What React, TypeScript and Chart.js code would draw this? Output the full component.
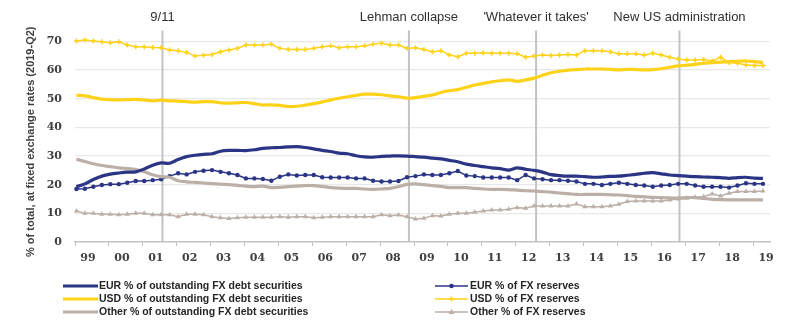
import React, { useEffect, useRef } from 'react';
import { Chart, registerables } from 'chart.js';

Chart.register(...registerables);

// Quarterly categories 1999-Q1 .. 2019-Q2
const quarters: string[] = [];
for (let y = 1999; y <= 2019; y++) {
  for (let q = 1; q <= 4; q++) {
    if (y === 2019 && q > 2) break;
    quarters.push(`${y}-Q${q}`);
  }
}

const yearTicks: number[] = [];
for (let y = 1999; y <= 2019; y++) yearTicks.push(y);

const eurDebt = [
  19.3, 20.3, 21.8, 23.0, 23.7, 24.1, 24.4, 24.5, 25.5, 26.8,
  27.6, 27.5, 28.8, 29.8, 30.3, 30.6, 30.8, 31.7, 32.0, 32.0,
  31.9, 32.2, 32.7, 32.9, 33.0, 33.2, 33.3, 33.0, 32.5, 32.0,
  31.6, 31.0, 30.8, 30.1, 29.7, 29.6, 29.9, 30.0, 30.1, 30.0,
  29.8, 29.6, 29.3, 29.0, 28.5, 28.0, 27.2, 26.7, 26.3, 25.9,
  25.6, 25.1, 25.9, 25.4, 25.0, 24.4, 23.5, 23.2, 23.0, 23.0,
  22.8, 22.6, 22.7, 22.9, 23.0, 23.3, 23.6, 24.0, 24.2, 23.8,
  23.4, 23.2, 23.0, 22.8, 22.7, 22.6, 22.5, 22.2, 22.5, 22.6,
  22.3, 22.2,
];

const eurReserves = [
  18.5, 18.6, 19.3, 19.9, 20.2, 20.2, 20.7, 21.3, 21.3, 21.6,
  21.9, 23.0, 24.0, 23.6, 24.5, 24.9, 25.1, 24.5, 24.0, 23.4,
  22.2, 22.2, 22.0, 21.4, 22.8, 23.6, 23.2, 23.4, 23.4, 22.6,
  22.5, 22.5, 22.5, 22.2, 22.2, 21.4, 21.1, 21.1, 21.3, 22.6,
  23.0, 23.6, 23.4, 23.4, 24.0, 24.8, 23.2, 23.0, 22.5, 22.5,
  22.5, 22.5, 21.6, 23.4, 22.2, 21.9, 21.6, 21.6, 21.4, 21.1,
  20.3, 20.3, 19.9, 20.3, 20.7, 20.3, 19.9, 19.7, 19.3, 19.7,
  19.9, 20.3, 20.3, 19.7, 19.3, 19.3, 19.3, 19.0, 19.7, 20.5,
  20.3, 20.3,
];

const usdDebt = [
  51.3, 51.0, 50.4, 49.9, 49.7, 49.6, 49.7, 49.8, 49.6, 49.3,
  49.5, 49.3, 49.2, 49.0, 48.8, 49.0, 49.0, 48.6, 48.5, 48.6,
  48.7, 48.3, 47.8, 47.9, 47.7, 47.3, 47.4, 47.8, 48.3, 48.9,
  49.6, 50.2, 50.7, 51.2, 51.6, 51.6, 51.4, 51.0, 50.7, 50.2,
  50.4, 50.9, 51.3, 52.2, 52.8, 53.2, 54.0, 54.8, 55.4, 55.9,
  56.3, 56.6, 56.1, 56.6, 57.2, 58.2, 59.1, 59.6, 60.0, 60.2,
  60.4, 60.4, 60.4, 60.3, 60.1, 60.3, 60.2, 60.1, 60.2, 60.5,
  61.0, 61.5, 61.7, 62.0, 62.4, 62.6, 62.8, 63.0, 63.1, 63.2,
  63.0, 62.7,
];

const usdReserves = [
  70.2, 70.5, 70.2, 69.9, 69.6, 69.9, 68.8, 68.2, 68.2, 67.9,
  67.8, 67.0, 66.8, 66.2, 64.9, 65.2, 65.5, 66.4, 67.0, 67.6,
  68.8, 68.8, 68.8, 69.0, 67.6, 67.2, 67.2, 67.2, 67.6, 68.2,
  68.5, 67.8, 68.2, 68.2, 68.5, 69.0, 69.4, 68.8, 68.8, 67.6,
  67.8, 67.2, 66.4, 66.8, 65.3, 64.7, 65.9, 65.9, 66.1, 65.9,
  65.9, 65.9, 65.7, 64.5, 64.9, 65.3, 65.1, 65.3, 65.5, 65.3,
  66.8, 66.8, 66.8, 66.4, 65.7, 65.7, 65.7, 65.3, 65.9, 65.3,
  64.5, 63.9, 63.5, 63.5, 63.7, 63.2, 64.5, 62.7, 62.4, 61.8,
  61.6, 61.6,
];

const otherDebt = [
  28.9, 28.1, 27.3, 26.7, 26.3, 25.9, 25.6, 25.3, 24.5, 23.5,
  22.8, 22.6, 21.4, 21.0, 20.8, 20.6, 20.4, 20.2, 20.0, 19.8,
  19.5, 19.3, 19.5, 19.0, 19.1, 19.3, 19.5, 19.7, 19.7, 19.4,
  19.0, 18.8, 18.7, 18.7, 18.5, 18.4, 18.5, 18.7, 19.3, 20.1,
  20.3, 20.0, 19.7, 19.4, 19.0, 19.0, 19.0, 18.7, 18.5, 18.4,
  18.4, 18.3, 18.1, 17.9, 17.8, 17.6, 17.4, 17.1, 16.9, 16.6,
  16.6, 16.6, 16.6, 16.5, 16.4, 16.2, 15.9, 15.8, 15.6, 15.5,
  15.4, 15.3, 15.5, 15.5, 15.2, 14.9, 14.8, 14.7, 14.7, 14.7,
  14.7, 14.7,
];

const otherReserves = [
  10.8, 10.0, 10.0, 9.7, 9.7, 9.5, 9.7, 10.0, 10.0, 9.5,
  9.5, 9.5, 8.8, 9.7, 9.7, 9.5, 8.8, 8.5, 8.2, 8.5,
  8.6, 8.6, 8.6, 8.6, 8.8, 8.6, 8.8, 8.8, 8.5, 8.6,
  8.8, 8.8, 8.8, 8.8, 8.8, 8.8, 9.5, 9.2, 9.4, 8.8,
  8.0, 8.3, 9.2, 9.1, 9.7, 10.0, 10.0, 10.4, 10.8, 11.2,
  11.2, 11.4, 12.0, 11.8, 12.6, 12.6, 12.6, 12.6, 12.6, 13.3,
  12.3, 12.3, 12.3, 12.6, 13.2, 14.1, 14.3, 14.3, 14.3, 14.3,
  14.7, 15.0, 15.3, 15.6, 15.8, 16.8, 16.1, 17.0, 17.6, 17.6,
  17.6, 17.8,
];

const yTicks = [0, 10, 20, 30, 40, 50, 60, 70];

const eventDates = [2001.58, 2008.85, 2012.6, 2016.83];
const eventLabels = ['9/11', 'Lehman collapse', "'Whatever it takes'", 'New US administration'];

const seriesNames = [
  'EUR % of outstanding FX debt securities',
  'USD % of outstanding FX debt securities',
  'Other % of outstanding FX debt securities',
  'EUR % of FX reserves',
  'USD % of FX reserves',
  'Other % of FX reserves',
];

const NAVY = '#2b3585';
const YELLOW = '#ffd21a';
const TAUPE = '#bcafa7';

const quarterX = (label: string) => {
  const [y, q] = label.split('-Q');
  return Number(y) + (Number(q) - 1) / 4 + 1 / 24;
};

const toPoints = (arr: number[]) => arr.map((v, i) => ({ x: quarterX(quarters[i]), y: v }));

const drawMarker = (ctx: CanvasRenderingContext2D, style: string, x: number, y: number, color: string) => {
  ctx.save();
  ctx.fillStyle = color;
  ctx.strokeStyle = color;
  if (style === 'circle') {
    ctx.beginPath();
    ctx.arc(x, y, 2.3, 0, Math.PI * 2);
    ctx.fill();
  } else if (style === 'cross') {
    ctx.lineWidth = 1.5;
    ctx.beginPath();
    ctx.moveTo(x - 2.5, y);
    ctx.lineTo(x + 2.5, y);
    ctx.moveTo(x, y - 2.5);
    ctx.lineTo(x, y + 2.5);
    ctx.stroke();
  } else if (style === 'triangle') {
    ctx.beginPath();
    ctx.moveTo(x, y - 3);
    ctx.lineTo(x + 3, y + 2);
    ctx.lineTo(x - 3, y + 2);
    ctx.closePath();
    ctx.fill();
  }
  ctx.restore();
};

const overlayPlugin = {
  id: 'overlay',
  beforeDatasetsDraw(chart: any) {
    const { ctx, chartArea, scales } = chart;
    const xs = scales.x;
    ctx.save();
    ctx.strokeStyle = '#c3c3c3';
    ctx.lineWidth = 2;
    eventDates.forEach((d) => {
      const px = xs.getPixelForValue(d);
      ctx.beginPath();
      ctx.moveTo(px, chartArea.top - 11);
      ctx.lineTo(px, chartArea.bottom);
      ctx.stroke();
    });
    ctx.restore();
  },
  afterDraw(chart: any) {
    const { ctx, scales } = chart;
    const xs = scales.x;
    ctx.save();
    ctx.fillStyle = '#303030';
    ctx.font = '13px "Liberation Sans", Arial, sans-serif';
    ctx.textAlign = 'center';
    ctx.textBaseline = 'alphabetic';
    eventDates.forEach((d, i) => {
      ctx.fillText(eventLabels[i], xs.getPixelForValue(d), 20.5);
    });

    // Legend (two columns)
    const ds = chart.data.datasets;
    const colLine = [[63, 98], [435, 468]];
    const colText = [99, 470];
    const rows = [286, 299, 312];
    ctx.font = 'bold 10.5px "Liberation Sans", Arial, sans-serif';
    ctx.textAlign = 'left';
    ctx.textBaseline = 'middle';
    ds.forEach((d: any, i: number) => {
      const col = i < 3 ? 0 : 1;
      const row = i % 3;
      const y = rows[row];
      const [x0, x1] = colLine[col];
      ctx.strokeStyle = d.borderColor;
      ctx.lineWidth = col === 0 ? 3 : 1.5;
      ctx.beginPath();
      ctx.moveTo(x0, y);
      ctx.lineTo(x1, y);
      ctx.stroke();
      if (col === 1) drawMarker(ctx, d.pointStyle, (x0 + x1) / 2, y, d.borderColor);
      ctx.fillStyle = '#262626';
      ctx.fillText(d.label, colText[col], y + 0.5);
    });
    ctx.restore();
  },
};

export default function App() {
  const ref = useRef<HTMLCanvasElement | null>(null);

  useEffect(() => {
    document.body.style.margin = '0';
    const canvas = ref.current;
    if (!canvas) return;
    const tickFont = { family: '"DejaVu Serif", serif', size: 11, weight: 'bold' as const };
    const chart = new Chart(canvas, {
      type: 'line',
      data: {
        datasets: [
          {
            label: seriesNames[0], data: toPoints(eurDebt), borderColor: NAVY, backgroundColor: NAVY,
            borderWidth: 3.2, pointRadius: 0, tension: 0.3, pointStyle: 'line', clip: false,
          },
          {
            label: seriesNames[1], data: toPoints(usdDebt), borderColor: YELLOW, backgroundColor: YELLOW,
            borderWidth: 3.2, pointRadius: 0, tension: 0.3, pointStyle: 'line', clip: false,
          },
          {
            label: seriesNames[2], data: toPoints(otherDebt), borderColor: TAUPE, backgroundColor: TAUPE,
            borderWidth: 3.2, pointRadius: 0, tension: 0.3, pointStyle: 'line', clip: false,
          },
          {
            label: seriesNames[3], data: toPoints(eurReserves), borderColor: NAVY, backgroundColor: NAVY,
            borderWidth: 1.5, pointRadius: 2.2, pointStyle: 'circle', pointBorderWidth: 0, tension: 0, clip: false,
          },
          {
            label: seriesNames[4], data: toPoints(usdReserves), borderColor: YELLOW, backgroundColor: YELLOW,
            borderWidth: 1.5, pointRadius: 2.5, pointStyle: 'cross', pointBorderWidth: 1.5, tension: 0, clip: false,
          },
          {
            label: seriesNames[5], data: toPoints(otherReserves), borderColor: TAUPE, backgroundColor: TAUPE,
            borderWidth: 1.5, pointRadius: 3, pointStyle: 'triangle', pointBorderWidth: 0, tension: 0, clip: false,
          },
        ],
      },
      options: {
        responsive: false,
        animation: false,
        events: [],
        layout: { padding: { left: 0, right: 30, top: 41.5, bottom: 58 } },
        plugins: {
          legend: { display: false },
          tooltip: { enabled: false },
        },
        scales: {
          x: {
            type: 'linear',
            min: 1999,
            max: 2019.5,
            afterBuildTicks: (scale: any) => {
              scale.ticks = yearTicks.map((v) => ({ value: v }));
            },
            afterFit: (scale: any) => {
              scale.height = 25;
            },
            grid: {
              drawOnChartArea: false,
              drawTicks: true,
              tickLength: 4,
              color: '#c3c3c3',
              lineWidth: 1,
            },
            border: { display: true, color: '#c3c3c3', width: 1.5 },
            ticks: {
              autoSkip: false,
              maxRotation: 0,
              labelOffset: 13,
              padding: 6,
              color: '#404040',
              font: tickFont,
              callback: (v: any) => String(Number(v) % 100).padStart(2, '0'),
            },
          },
          y: {
            type: 'linear',
            min: 0,
            max: 70,
            afterBuildTicks: (scale: any) => {
              scale.ticks = yTicks.map((v) => ({ value: v }));
            },
            afterFit: (scale: any) => {
              scale.width = 75;
            },
            border: { display: false },
            grid: {
              drawTicks: false,
              color: (c: any) => (c.tick && c.tick.value === 0 ? 'rgba(0,0,0,0)' : '#e8e8e8'),
              lineWidth: 1.3,
            },
            ticks: {
              padding: 13,
              color: '#404040',
              font: tickFont,
            },
            title: {
              display: true,
              text: '% of total, at fixed exchange rates (2019-Q2)',
              color: '#404040',
              font: { family: '"Liberation Sans", Arial, sans-serif', size: 11, weight: 'bold' },
              padding: { top: 24, bottom: 0 },
            },
          },
        },
      },
      plugins: [overlayPlugin],
    });
    return () => chart.destroy();
  }, []);

  return (
    <div style={{ width: 800, height: 325, background: '#fff' }}>
      <canvas ref={ref} width={800} height={325} />
    </div>
  );
}
